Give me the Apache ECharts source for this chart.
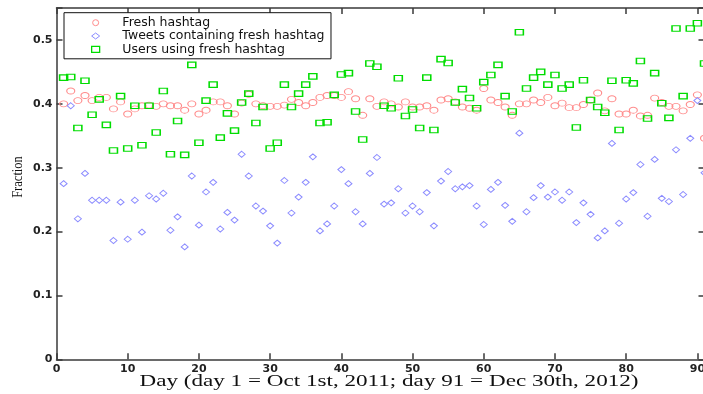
<!DOCTYPE html>
<html>
<head>
<meta charset="utf-8">
<script src="https://cdn.jsdelivr.net/npm/echarts@6/dist/echarts.min.js"></script>
<style>
  html, body { margin: 0; padding: 0; background: #fff; }
  #chart { width: 703px; height: 394px; }
</style>
</head>
<body>
<div id="chart"></div>
<script>
// Daily fractions, day 1 .. day 91
const freshHashtag = [
  0.400, 0.420, 0.405, 0.413, 0.405, 0.410, 0.410, 0.392, 0.403, 0.384,
  0.392, 0.397, 0.398, 0.396, 0.400, 0.397, 0.397, 0.390, 0.400, 0.384,
  0.390, 0.403, 0.403, 0.397, 0.384, 0.401, 0.415, 0.400, 0.397, 0.396,
  0.396, 0.398, 0.407, 0.402, 0.397, 0.402, 0.410, 0.413, 0.413, 0.410,
  0.419, 0.408, 0.382, 0.408, 0.396, 0.403, 0.400, 0.395, 0.403, 0.395,
  0.395, 0.397, 0.390, 0.406, 0.408, 0.403, 0.395, 0.393, 0.390, 0.424,
  0.406, 0.402, 0.395, 0.382, 0.400, 0.400, 0.406, 0.402, 0.410, 0.397,
  0.401, 0.394, 0.394, 0.399, 0.406, 0.417, 0.389, 0.408, 0.384, 0.384,
  0.390, 0.381, 0.382, 0.409, 0.402, 0.396, 0.396, 0.389, 0.399, 0.414,
  0.346
];
const tweetsWithFresh = [
  0.275, 0.397, 0.220, 0.291, 0.249, 0.249, 0.249, 0.186, 0.246, 0.188,
  0.249, 0.199, 0.256, 0.251, 0.260, 0.202, 0.223, 0.176, 0.287, 0.210,
  0.262, 0.277, 0.204, 0.230, 0.218, 0.321, 0.287, 0.240, 0.232, 0.209,
  0.182, 0.280, 0.229, 0.254, 0.277, 0.317, 0.201, 0.212, 0.240, 0.297,
  0.275, 0.231, 0.212, 0.291, 0.316, 0.243, 0.245, 0.267, 0.229, 0.240,
  0.231, 0.261, 0.209, 0.279, 0.294, 0.267, 0.270, 0.272, 0.240, 0.211,
  0.266, 0.277, 0.241, 0.216, 0.354, 0.231, 0.253, 0.272, 0.254, 0.262,
  0.249, 0.262, 0.214, 0.245, 0.227, 0.190, 0.201, 0.338, 0.213, 0.251,
  0.261, 0.305, 0.224, 0.313, 0.252, 0.247, 0.328, 0.258, 0.346, 0.405,
  0.292
];
const usersWithFresh = [
  0.441, 0.442, 0.362, 0.436, 0.383, 0.407, 0.367, 0.327, 0.412, 0.330,
  0.397, 0.335, 0.397, 0.355, 0.420, 0.321, 0.373, 0.320, 0.461, 0.339,
  0.405, 0.430, 0.347, 0.385, 0.358, 0.402, 0.416, 0.370, 0.395, 0.330,
  0.339, 0.430, 0.395, 0.416, 0.430, 0.443, 0.370, 0.371, 0.414, 0.446,
  0.448, 0.388, 0.344, 0.463, 0.458, 0.397, 0.393, 0.440, 0.381, 0.391,
  0.362, 0.441, 0.359, 0.470, 0.464, 0.402, 0.423, 0.409, 0.393, 0.434,
  0.445, 0.461, 0.412, 0.388, 0.512, 0.424, 0.441, 0.450, 0.430, 0.445,
  0.424, 0.430, 0.363, 0.437, 0.406, 0.395, 0.386, 0.436, 0.359, 0.437,
  0.432, 0.467, 0.377, 0.448, 0.401, 0.378, 0.518, 0.412, 0.518, 0.526,
  0.463
];

const seriesNames = ['Fresh hashtag', 'Tweets containing fresh hashtag', 'Users using fresh hashtag'];
const xTitle = 'Day (day 1 = Oct 1st, 2011; day 91 = Dec 30th, 2012)';
const yTitle = 'Fraction';

const colors = { fresh: '#ff8c8c', tweets: '#8c8cff', users: '#00dd00' };

// pair each value with its day number (first entry is day 1)
const toPoints = vals => vals.map((v, i) => [i + 1, v]);

const frameLine = { color: '#3a3a3a', width: 1.5 };
const tickFont = { fontFamily: 'DejaVu Sans', fontSize: 11, fontWeight: 'bold', color: '#222' };

const xLabel = v => (Math.abs(v % 10) < 1e-9 ? String(v) : '');
const yLabel = v => {
  const t = v * 10;
  if (Math.abs(t - Math.round(t)) > 1e-6) return '';
  return v === 0 ? '0' : v.toFixed(1);
};

function xAxisDef(pos, labels) {
  return {
    type: 'value', position: pos, min: 0, max: 91, interval: 10,
    axisLine: { show: true, onZero: false, lineStyle: frameLine },
    axisTick: { show: true, inside: true, length: 6, lineStyle: frameLine },
    axisLabel: labels ? Object.assign({ show: true, margin: 4, formatter: xLabel }, tickFont) : { show: false },
    splitLine: { show: false }
  };
}
function yAxisDef(pos, labels) {
  return {
    type: 'value', position: pos, min: 0, max: 0.55, interval: 0.1,
    axisLine: { show: true, onZero: false, lineStyle: frameLine },
    axisTick: { show: true, inside: true, length: 6, lineStyle: frameLine },
    axisLabel: labels ? Object.assign({ show: true, margin: 4, formatter: yLabel }, tickFont) : { show: false },
    splitLine: { show: false }
  };
}

function scatter(name, vals, symbol, size, color, width) {
  return {
    type: 'scatter', name: name, data: toPoints(vals),
    xAxisIndex: 0, yAxisIndex: 0,
    symbol: symbol, symbolSize: size,
    itemStyle: { color: 'rgba(0,0,0,0)', borderColor: color, borderWidth: width, opacity: 1 },
    emphasis: { disabled: true },
    clip: false
  };
}

function legendItem(name, icon, color, width) {
  return { name: name, icon: icon, itemStyle: { color: 'rgba(0,0,0,0)', borderColor: color, borderWidth: width } };
}

const chart = echarts.init(document.getElementById('chart'), null, { renderer: 'canvas' });
chart.setOption({
  animation: false,
  backgroundColor: '#ffffff',
  grid: { left: 56.5, top: 8, width: 648, height: 351.3, outerBoundsMode: 'none' },
  xAxis: [xAxisDef('bottom', true), xAxisDef('top', false)],
  yAxis: [yAxisDef('left', true), yAxisDef('right', false)],
  legend: {
    orient: 'vertical', left: 64, top: 12.7,
    padding: [3.5, 6.5, 3, 27],
    itemWidth: 8, itemHeight: 6, itemGap: 0.3,
    symbolKeepAspect: true,
    borderColor: '#111', borderWidth: 1, backgroundColor: '#fff',
    selectedMode: false,
    // leading gap between the marker and its label
    formatter: name => '{gap| }' + name,
    textStyle: {
      fontFamily: 'DejaVu Sans', fontSize: 12.5, lineHeight: 11.5, color: '#111',
      rich: { gap: { width: 17.7, fontSize: 12.5, lineHeight: 11.5 } }
    },
    data: [
      legendItem(seriesNames[0], 'circle', colors.fresh, 1),
      legendItem(seriesNames[1], 'diamond', colors.tweets, 1),
      legendItem(seriesNames[2], 'rect', colors.users, 1.3)
    ]
  },
  graphic: [
    {
      type: 'text', x: 389, y: 382, scaleX: 1.36, silent: true,
      style: { text: xTitle, fontFamily: 'Liberation Serif', fontSize: 17, fill: '#111', align: 'center', verticalAlign: 'middle' }
    },
    {
      type: 'text', x: 18, y: 177, rotation: Math.PI / 2, scaleY: 1.25, silent: true,
      style: { text: yTitle, fontFamily: 'Liberation Serif', fontSize: 12.5, fill: '#111', align: 'center', verticalAlign: 'middle' }
    }
  ],
  series: [
    scatter(seriesNames[0], freshHashtag, 'circle', [8, 6], colors.fresh, 1),
    scatter(seriesNames[1], tweetsWithFresh, 'diamond', [7, 6], colors.tweets, 1),
    scatter(seriesNames[2], usersWithFresh, 'rect', [8, 5.5], colors.users, 1.3)
  ]
});
</script>
</body>
</html>
